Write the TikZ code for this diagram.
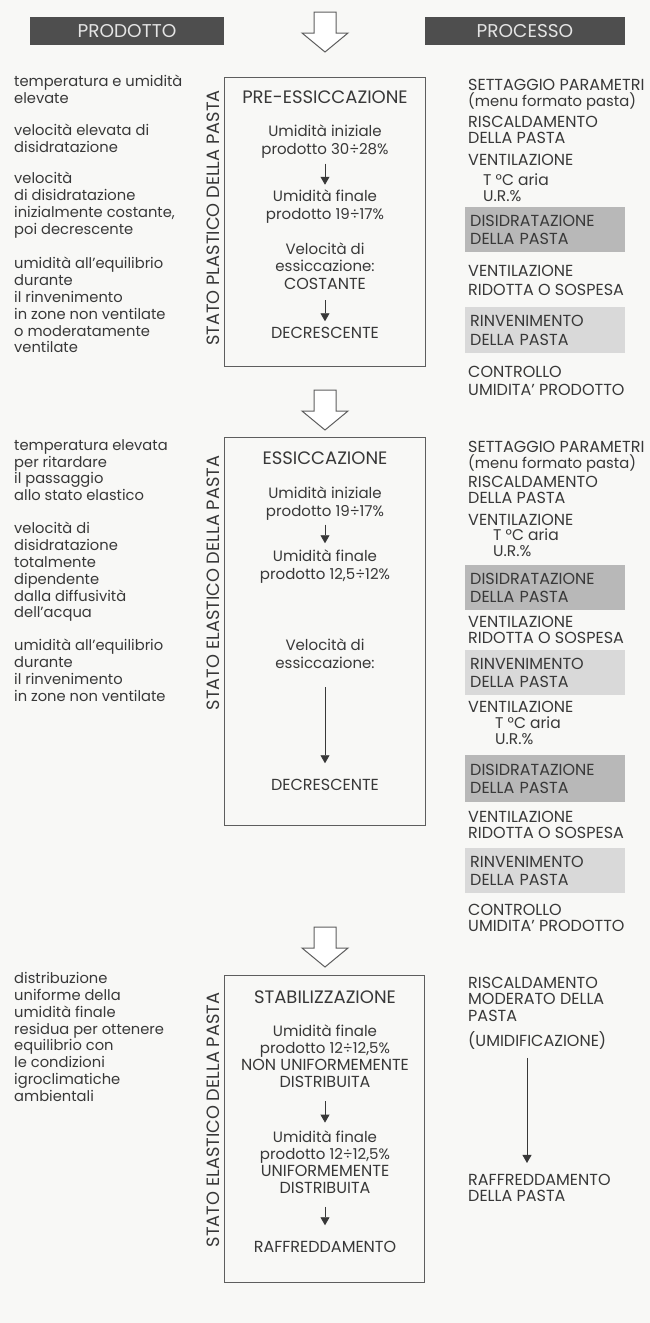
\documentclass[tikz,border=0pt]{standalone}
\usepackage{fontspec}
\setmainfont{Poppins}
\usetikzlibrary{arrows.meta}

\definecolor{paper}{HTML}{F8F8F6}
\definecolor{ink}{HTML}{383838}
\definecolor{frame}{HTML}{5E5E5E}
\definecolor{hdrfill}{HTML}{4E4E4E}
\definecolor{hdrtext}{HTML}{E4E4E4}
\definecolor{darkband}{HTML}{B8B8B8}
\definecolor{lightband}{HTML}{D9D9D9}

% text sizes: lowercase runs, capital runs, stage titles, headers, side labels
\newcommand\lefsize{\fontsize{14.7}{16.8}\selectfont}
\newcommand\boxsize{\fontsize{15}{17.5}\selectfont}
\newcommand\bcaps{\fontsize{16}{17.5}\selectfont}
\newcommand\rightsize{\fontsize{16}{16.5}\selectfont}
\newcommand\rlow{\fontsize{14.8}{16.5}\selectfont}
\newcommand\rmix{\fontsize{15.5}{16.5}\selectfont}
\newcommand\bandsize{\fontsize{16}{18.5}\selectfont}
\newcommand\ttlsize{\fontsize{18}{20}\selectfont}
\newcommand\hdrsize{\fontsize{18.5}{20}\selectfont}
\newcommand\lblsize{\fontsize{17.8}{20}\selectfont}

\begin{document}
\begin{tikzpicture}[x=1pt,y=-1pt,
  % multi-line texts are placed by the baseline of their first line
  firstline/.style={inner sep=0pt, text=ink, execute at begin node=\strut},
  lefttxt/.style={firstline, font=\lefsize, anchor=north west, align=left, yshift=11.76pt},
  righttxt/.style={firstline, font=\rightsize, anchor=north west, align=left, yshift=11.55pt},
  midtxt/.style={firstline, font=\boxsize, anchor=north, align=center, yshift=12.25pt},
  ttl/.style={inner sep=0pt, anchor=base, text=ink, font=\ttlsize},
  header/.style={fill=hdrfill, text=hdrtext, font=\hdrsize, inner sep=0pt,
    minimum height=28pt},
  stagebox/.style={draw=frame, line width=0.8pt, inner sep=0pt, anchor=north west},
  vlabel/.style={inner sep=0pt, text=ink, font=\lblsize, rotate=90},
  band/.style={inner sep=0pt, text=ink, font=\bandsize, anchor=north west,
    align=left, text width=150pt, inner xsep=5pt, minimum width=160pt},
  smallarr/.style={draw=ink, line width=0.8pt,
    -{Triangle[length=8pt,width=9pt]}, shorten <=4pt, shorten >=5pt},
  pics/hollowdown/.style={code={
    \draw[frame, line width=1pt, fill=white, line join=miter]
      (-11,0) -- (11,0) -- (11,21) -- (23,21) -- (0,40) -- (-23,21)
      -- (-11,21) -- cycle;}}
]
\fill[paper] (0,0) rectangle (650,1323);
\useasboundingbox (0,0) rectangle (650,1323);

% column headers and the stage arrows
\node[header, minimum width=194pt] (hprod) at (127,31) {PRODOTTO};
\node[header, minimum width=200pt] (hproc) at (525,31) {PROCESSO};
\coordinate (flow1) at (325,12);
\coordinate (flow2) at (325,390);
\coordinate (flow3) at (325,927);
\pic at (flow1) {hollowdown};
\pic at (flow2) {hollowdown};
\pic at (flow3) {hollowdown};

% stage frames
\node[stagebox, minimum width=201pt, minimum height=289pt] (box1) at (224,77) {};
\node[stagebox, minimum width=201pt, minimum height=388pt] (box2) at (224,437) {};
\node[stagebox, minimum width=200pt, minimum height=307pt] (box3) at (224,975) {};

% state of the dough
\node[vlabel] (lab1) at (213,218) {STATO PLASTICO DELLA PASTA};
\node[vlabel] (lab2) at (213,583) {STATO ELASTICO DELLA PASTA};
\node[vlabel] (lab3) at (213,1120) {STATO ELASTICO DELLA PASTA};

% product column
\node[lefttxt] (p1) at (14,87) {temperatura e umidità\\elevate};
\node[lefttxt] (p2) at (14,136) {velocità elevata di\\disidratazione};
\node[lefttxt] (p3) at (14,184) {velocità\\di disidratazione\\inizialmente costante,\\poi decrescente};
\node[lefttxt] (p4) at (14,269) {umidità all’equilibrio\\durante\\il rinvenimento\\in zone non ventilate\\o moderatamente\\ventilate};
\node[lefttxt] (p5) at (14,451) {temperatura elevata\\per ritardare\\il passaggio\\allo stato elastico};
\node[lefttxt] (p6) at (14,534) {velocità di\\disidratazione\\totalmente\\dipendente\\dalla diffusività\\dell’acqua};
\node[lefttxt] (p7) at (14,651) {umidità all’equilibrio\\durante\\il rinvenimento\\in zone non ventilate};
\node[lefttxt] (p8) at (14,984) {distribuzione\\uniforme della\\umidità finale\\residua per ottenere\\equilibrio con\\le condizioni\\igroclimatiche\\ambientali};

% stage 1: pre-drying
\node[ttl] (t1) at (325,103.5) {PRE-ESSICCAZIONE};
\node[midtxt] (b1a) at (325,137) {Umidità iniziale\\prodotto 30÷28\%};
\node[midtxt] (b1b) at (325,202) {Umidità finale\\prodotto 19÷17\%};
\node[midtxt] (b1c) at (325,254.5) {Velocità di\\essiccazione:\\{\bcaps COSTANTE}};
\node[midtxt] (b1d) at (325,338.5) {\bcaps DECRESCENTE};
\draw[smallarr] (b1a) -- (b1b);
\draw[smallarr, shorten <=5.5pt] (b1c) -- (b1d);

% stage 2: drying
\node[ttl] (t2) at (325,464.5) {ESSICCAZIONE};
\node[midtxt] (b2a) at (325,499) {Umidità iniziale\\prodotto 19÷17\%};
\node[midtxt] (b2b) at (325,562) {Umidità finale\\prodotto 12,5÷12\%};
\node[midtxt] (b2c) at (325,651) {Velocità di\\essiccazione:};
\node[midtxt] (b2d) at (325,790) {\bcaps DECRESCENTE};
\draw[smallarr, shorten <=3pt, shorten >=6.5pt] (b2a) -- (b2b);
\draw[smallarr, shorten <=13.5pt, shorten >=14.5pt] (b2c) -- (b2d);

% stage 3: stabilisation
\node[ttl] (t3) at (325,1003.5) {STABILIZZAZIONE};
\node[midtxt, font=\fontsize{15}{17}\selectfont, yshift=-0.35pt] (b3a) at (325,1036) {Umidità finale\\prodotto 12÷12,5\%\\{\bcaps NON UNIFORMEMENTE}\\{\bcaps DISTRIBUITA}};
\node[midtxt, font=\fontsize{15}{17}\selectfont, yshift=-0.35pt] (b3b) at (325,1142) {Umidità finale\\prodotto 12÷12,5\%\\{\bcaps UNIFORMEMENTE}\\{\bcaps DISTRIBUITA}};
\node[midtxt] (b3c) at (325,1252.5) {\bcaps RAFFREDDAMENTO};
\draw[smallarr, shorten <=9pt, shorten >=7.5pt] (b3a) -- (b3b);
\draw[smallarr, shorten <=8.5pt, shorten >=15pt] (b3b) -- (b3c);

% process column, stage 1
\node[righttxt] (r1) at (468,90.5) {SETTAGGIO PARAMETRI\\{\rlow (menu formato pasta)}};
\node[righttxt] (r2) at (468,127.5) {RISCALDAMENTO\\DELLA PASTA};
\node[righttxt] (r3) at (468,165.5) {VENTILAZIONE};
\node[righttxt, font=\rmix] (r3b) at (483,185) {T °C aria\\U.R.\%};
\node[band, fill=darkband, minimum height=45pt] (d1) at (465,207) {DISIDRATAZIONE\\DELLA PASTA};
\node[righttxt, font=\fontsize{16}{19}\selectfont, yshift=1.75pt] (r4) at (468,278.5) {VENTILAZIONE\\RIDOTTA O SOSPESA};
\node[band, fill=lightband, minimum height=46pt] (l1) at (465,307) {RINVENIMENTO\\DELLA PASTA};
\node[righttxt, font=\fontsize{16}{18.5}\selectfont, yshift=1.4pt] (r5) at (468,378.5) {CONTROLLO\\UMIDITA’ PRODOTTO};

% process column, stage 2
\node[righttxt] (r6) at (468,452.5) {SETTAGGIO PARAMETRI\\{\rlow (menu formato pasta)}};
\node[righttxt] (r7) at (468,487.5) {RISCALDAMENTO\\DELLA PASTA};
\node[righttxt] (r8) at (468,525.5) {VENTILAZIONE};
\node[righttxt, font=\rmix] (r8b) at (493,540) {T °C aria\\U.R.\%};
\node[band, fill=darkband, minimum height=45pt] (d2) at (465,565) {DISIDRATAZIONE\\DELLA PASTA};
\node[righttxt] (r9) at (468,627.5) {VENTILAZIONE\\RIDOTTA O SOSPESA};
\node[band, fill=lightband, minimum height=45pt] (l2) at (465,650) {RINVENIMENTO\\DELLA PASTA};
\node[righttxt] (r10) at (468,712.5) {VENTILAZIONE};
\node[righttxt, font=\rmix] (r10b) at (495,728) {T °C aria\\U.R.\%};
\node[band, fill=darkband, minimum height=47pt] (d3) at (465,755) {DISIDRATAZIONE\\DELLA PASTA};
\node[righttxt] (r11) at (468,822.5) {VENTILAZIONE\\RIDOTTA O SOSPESA};
\node[band, fill=lightband, minimum height=45pt] (l3) at (465,848) {RINVENIMENTO\\DELLA PASTA};
\node[righttxt] (r12) at (468,915.5) {CONTROLLO\\UMIDITA’ PRODOTTO};

% process column, stage 3
\node[righttxt] (r13) at (468,988.5) {RISCALDAMENTO\\MODERATO DELLA\\PASTA};
\node[righttxt] (r14) at (468,1042.5) {(UMIDIFICAZIONE)};
\node[righttxt] (r15) at (468,1185.5) {RAFFREDDAMENTO\\DELLA PASTA};
\coordinate (rx) at (527,0);
\draw[smallarr, shorten <=6.5pt, shorten >=11pt] (r14.south -| rx) -- (r15.north -| rx);
\end{tikzpicture}
\end{document}
